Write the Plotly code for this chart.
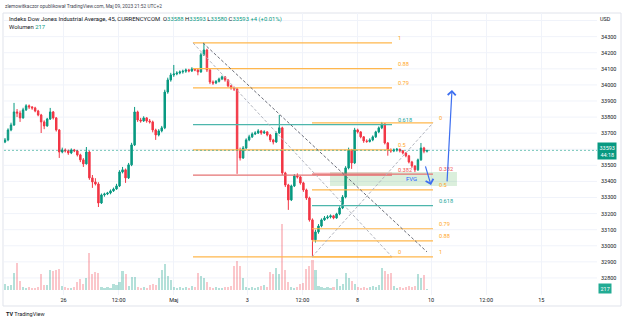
import plotly.graph_objects as go

# ---------------- data ----------------
open_ = [33645, 33658, 33720, 33751, 33832, 33825, 33795, 33845, 33870, 33863,
         33857, 33838, 33813, 33770, 33745, 33788, 33832, 33795, 33720, 33583,
         33596, 33590, 33577, 33596, 33590, 33565, 33534, 33509, 33583, 33422,
         33397, 33384, 33266, 33316, 33322, 33328, 33341, 33353, 33372, 33459,
         33472, 33422, 33503, 33627, 33832, 33782, 33776, 33795, 33776, 33770,
         33720, 33689, 33714, 33733, 33956, 34031, 34062, 34068, 34074, 34081,
         34085, 34093, 34087, 34099, 34093, 34081, 34187, 34217, 34093, 34018,
         34012, 34022, 34037, 34050, 34031, 33994, 33981, 33975, 33596, 33546,
         33608, 33658, 33677, 33695, 33701, 33714, 33701, 33708, 33689, 33658,
         33645, 33701, 33733, 33453, 33378, 33285, 33372, 33434, 33428, 33391,
         33347, 33297, 33161, 33037, 33086, 33123, 33161, 33173, 33179, 33186,
         33173, 33198, 33235, 33303, 33484, 33596, 33515, 33720, 33708, 33677,
         33652, 33648, 33658, 33677, 33708, 33733, 33758, 33639, 33596, 33590,
         33596, 33600, 33590, 33577, 33559, 33521, 33496, 33472, 33534, 33608,
         33588]
high = [33670, 33730, 33765, 33888, 33850, 33840, 33858, 33880, 33878, 33868,
        33864, 33845, 33820, 33780, 33795, 33857, 33838, 33800, 33725, 33610,
        33605, 33598, 33605, 33602, 33596, 33572, 33545, 33614, 33590, 33440,
        33420, 33395, 33325, 33330, 33335, 33350, 33362, 33385, 33470, 33490,
        33480, 33515, 33640, 33863, 33840, 33795, 33805, 33800, 33788, 33778,
        33728, 33725, 33745, 33970, 34045, 34075, 34124, 34085, 34090, 34095,
        34102, 34100, 34110, 34105, 34100, 34200, 34261, 34225, 34100, 34028,
        34030, 34045, 34058, 34055, 34035, 34000, 33990, 33980, 33610, 33620,
        33668, 33690, 33705, 33712, 33725, 33720, 33718, 33712, 33695, 33665,
        33710, 33813, 33740, 33460, 33385, 33380, 33445, 33450, 33435, 33398,
        33355, 33305, 33170, 33100, 33135, 33170, 33185, 33190, 33195, 33192,
        33205, 33245, 33315, 33495, 33610, 33602, 33733, 33728, 33712, 33682,
        33662, 33668, 33686, 33715, 33742, 33770, 33762, 33645, 33605, 33605,
        33608, 33604, 33595, 33582, 33565, 33528, 33500, 33542, 33639, 33615,
        33593]
low = [33638, 33650, 33712, 33745, 33800, 33770, 33790, 33838, 33850, 33845,
       33830, 33805, 33701, 33725, 33740, 33782, 33785, 33710, 33546, 33575,
       33580, 33565, 33570, 33582, 33555, 33520, 33490, 33505, 33410, 33360,
       33375, 33241, 33260, 33305, 33315, 33320, 33335, 33348, 33365, 33450,
       33391, 33415, 33495, 33620, 33770, 33765, 33770, 33765, 33760, 33705,
       33658, 33680, 33705, 33725, 33945, 34020, 34050, 34060, 34066, 34070,
       34075, 34078, 34080, 34085, 34060, 34075, 34180, 34080, 34005, 34000,
       34005, 34015, 34030, 34020, 33985, 33970, 33962, 33447, 33530, 33540,
       33600, 33650, 33670, 33688, 33695, 33690, 33695, 33680, 33645, 33630,
       33640, 33695, 33440, 33365, 33223, 33278, 33365, 33418, 33380, 33335,
       33285, 33150, 32931, 33020, 33075, 33115, 33155, 33165, 33170, 33165,
       33168, 33190, 33228, 33295, 33475, 33478, 33508, 33698, 33668, 33640,
       33640, 33642, 33650, 33670, 33700, 33725, 33630, 33560, 33578, 33582,
       33585, 33580, 33568, 33550, 33512, 33484, 33458, 33465, 33528, 33575,
       33580]
close = [33658, 33720, 33751, 33832, 33825, 33795, 33845, 33870, 33863, 33857,
         33838, 33813, 33770, 33745, 33788, 33832, 33795, 33720, 33583, 33596,
         33590, 33577, 33596, 33590, 33565, 33534, 33509, 33583, 33422, 33397,
         33384, 33266, 33316, 33322, 33328, 33341, 33353, 33372, 33459, 33472,
         33422, 33503, 33627, 33832, 33782, 33776, 33795, 33776, 33770, 33720,
         33689, 33714, 33733, 33956, 34031, 34062, 34068, 34074, 34081, 34085,
         34093, 34087, 34099, 34093, 34081, 34187, 34217, 34093, 34018, 34012,
         34022, 34037, 34050, 34031, 33994, 33981, 33975, 33596, 33546, 33608,
         33658, 33677, 33695, 33701, 33714, 33701, 33708, 33689, 33658, 33645,
         33701, 33733, 33453, 33378, 33285, 33372, 33434, 33428, 33391, 33347,
         33297, 33161, 33037, 33086, 33123, 33161, 33173, 33179, 33186, 33173,
         33198, 33235, 33303, 33484, 33596, 33515, 33720, 33708, 33677, 33652,
         33648, 33658, 33677, 33708, 33733, 33758, 33639, 33596, 33590, 33596,
         33600, 33590, 33577, 33559, 33521, 33496, 33472, 33534, 33608, 33588,
         33593]
volume = [1500, 1000, 1250, 4250, 6750, 2250, 750, 500, 750, 500,
          500, 750, 4000, 1250, 1250, 5000, 4750, 5000, 5250, 1000,
          750, 500, 500, 750, 2000, 2750, 1500, 3000, 9250, 4000,
          4500, 4250, 750, 500, 750, 500, 1500, 1250, 2000, 4750,
          4000, 1000, 3250, 3250, 750, 500, 750, 500, 1250, 1500,
          1250, 3000, 5000, 6500, 3500, 2500, 750, 500, 750, 500,
          750, 500, 1000, 750, 4250, 3500, 3000, 2000, 750, 500,
          750, 500, 500, 750, 750, 1000, 6000, 7250, 6000, 3000,
          750, 500, 750, 500, 750, 1000, 1250, 750, 4500, 4000,
          5500, 4000, 16500, 5000, 2000, 750, 500, 750, 1500, 1750,
          5250, 6000, 7500, 5000, 1000, 750, 500, 750, 500, 750,
          2750, 1000, 1500, 4250, 3000, 2250, 1500, 750, 500, 750,
          500, 750, 1000, 750, 1250, 5500, 4750, 4000, 4250, 1000,
          500, 750, 500, 750, 1000, 750, 1000, 4000, 3000, 3750,
          217]

# time axis: trading days since 26 Apr 00:00 (weekends removed)
first_bar_day = -1.592
bar_days = 0.08202
tick_days = [0, 1.5, 3, 5, 6.5, 8, 10, 11.5, 13]
tick_text = ["26", "12:00", "Maj", "3", "12:00", "8", "10", "12:00", "15"]
# 33600 is hidden behind the last-price label on the price scale
price_ticks = [32800, 32900, 33000, 33100, 33200, 33300, 33400, 33500,
               33700, 33800, 33900, 34000, 34100, 34200, 34300]
grid_prices = [32800, 32900, 33000, 33100, 33200, 33300, 33400, 33500, 33600,
               33700, 33800, 33900, 34000, 34100, 34200, 34300, 34400]

last_price = 33593
fib1_levels = [1, 0.88, 0.79, 0.618, 0.5, 0.382, 0]
fib1_price0, fib1_price1 = 32931, 34261
fib1_days = (3.524, 8.939)
fib2_levels = [0, 0.382, 0.5, 0.618, 0.79, 0.88, 1]
fib2_price0, fib2_price1 = 33764, 32931
fib2_days = (6.762, 10.054)
trend_dark = ((3.796, 34261), (9.891, 32962))
fvg_days, fvg_prices = (7.252, 10.707), (33372, 33459)
red_zone_days, red_zone_prices = (6.79, 8.939), (33434, 33459)
arrow_down = ((9.837, 33503), (10.0, 33378))
arrow_up = ((10.435, 33391), (10.571, 33969))

# ---------------- figure ----------------
UP, DOWN = "#089981", "#F23645"
ORANGE, ORANGE_T = "#FFB74D", "#FFA726"
TEAL, TEAL_T = "#4DB6AC", "#26A69A"
RED, RED_T = "#E57373", "#EF5350"
FONT = "Roboto"
GRID = "#F0F3FA"

x = [first_bar_day + i * bar_days for i in range(len(close))]
vol_colors = ["rgba(8,153,129,0.30)" if c >= o else "rgba(242,54,69,0.28)"
              for o, c in zip(open_, close)]

fig = go.Figure()
fig.add_trace(go.Bar(x=x, y=volume, yaxis="y2", marker_color=vol_colors,
                     marker_line_width=0, width=bar_days * 0.7, hoverinfo="skip"))
fig.add_trace(go.Candlestick(
    x=x, open=open_, high=high, low=low, close=close,
    increasing=dict(line=dict(color=UP, width=1), fillcolor=UP),
    decreasing=dict(line=dict(color=DOWN, width=1), fillcolor=DOWN),
    whiskerwidth=0))


def lvl_color(l):
    if abs(l - 0.618) < 1e-9:
        return TEAL, TEAL_T
    if abs(l - 0.382) < 1e-9:
        return RED, RED_T
    return ORANGE, ORANGE_T


def add_fib(levels, p0, p1, days):
    for l in levels:
        p = p0 + l * (p1 - p0)
        lc, tc = lvl_color(l)
        fig.add_shape(type="line", xref="x", yref="y", x0=days[0], x1=days[1],
                      y0=p, y1=p, line=dict(color=lc, width=1.2))
        fig.add_annotation(x=days[1], y=p, xref="x", yref="y", text=f"{l:g}",
                           showarrow=False, xanchor="left", yanchor="middle",
                           xshift=4, yshift=5,
                           font=dict(family=FONT, size=5.6, color=tc))
    # fib trend line (dashed diagonal)
    fig.add_shape(type="line", xref="x", yref="y", x0=days[0], x1=days[1],
                  y0=p1, y1=p0, line=dict(color="#B2B5BE", width=1, dash="3px,2px"))


# zones
fig.add_shape(type="rect", xref="x", yref="y", x0=fvg_days[0], x1=fvg_days[1],
              y0=fvg_prices[0], y1=fvg_prices[1],
              fillcolor="rgba(76,175,80,0.20)", line=dict(width=0))
fig.add_shape(type="rect", xref="x", yref="y", x0=red_zone_days[0], x1=red_zone_days[1],
              y0=red_zone_prices[0], y1=red_zone_prices[1],
              fillcolor="rgba(242,54,69,0.15)", line=dict(width=0))

add_fib(fib1_levels, fib1_price0, fib1_price1, fib1_days)
add_fib(fib2_levels, fib2_price0, fib2_price1, fib2_days)

fig.add_shape(type="line", xref="x", yref="y",
              x0=trend_dark[0][0], y0=trend_dark[0][1], x1=trend_dark[1][0], y1=trend_dark[1][1],
              line=dict(color="#6A6D78", width=1, dash="3px,2px"))

fig.add_annotation(x=(fvg_days[0] + fvg_days[1]) / 2 + 0.5, y=sum(fvg_prices) / 2,
                   xref="x", yref="y", text="FVG", showarrow=False,
                   font=dict(family=FONT, size=6, color="#2962FF"))

# horizontal grid (including the line hidden behind the price label)
for gp in grid_prices:
    fig.add_shape(type="line", xref="paper", yref="y", x0=0, x1=1, y0=gp, y1=gp,
                  line=dict(color=GRID, width=1), layer="below")

# current price line
fig.add_shape(type="line", xref="paper", yref="y", x0=0, x1=1, y0=last_price, y1=last_price,
              line=dict(color="rgba(8,153,129,0.55)", width=1, dash="2px,2px"))

for (tx, ty), (hx, hy) in (arrow_down, arrow_up):
    fig.add_annotation(x=hx, y=hy, ax=tx, ay=ty, xref="x", yref="y", axref="x", ayref="y",
                       text="", showarrow=True, arrowhead=4, arrowsize=1.3,
                       arrowwidth=1.2, arrowcolor="#3D6FF0", standoff=0, startstandoff=0)

# price-axis labels
fig.add_annotation(x=1, y=last_price, xref="paper", yref="y", xanchor="left", yanchor="middle",
                   yshift=-1, text=f"{last_price}<br>44:18", showarrow=False,
                   bgcolor=UP, borderpad=1.5, align="center",
                   font=dict(family=FONT, size=5.5, color="white"))
fig.add_annotation(x=1, y=volume[-1], xref="paper", yref="y2", xanchor="left", yanchor="middle",
                   xshift=1, text=f"{volume[-1]}", showarrow=False,
                   bgcolor="#22AB94", borderpad=1.5,
                   font=dict(family=FONT, size=5.5, color="white"))
fig.add_annotation(x=1.0135, y=0.979, xref="paper", yref="paper", text="USD", showarrow=False,
                   xanchor="center", yanchor="middle", font=dict(family=FONT, size=5.5, color="#131722"))

# header texts
fig.add_annotation(x=-0.0017, y=1.0248, xref="paper", yref="paper", xanchor="left", yanchor="middle",
                   showarrow=False,
                   text="zlemowitkaczor opublikował TradingView.com, Maj 09, 2023 21:52 UTC+2",
                   font=dict(family=FONT, size=4.8, color="#434651"))
teal = "<span style='color:#089981'>"
fig.add_annotation(x=0.005, y=0.9787, xref="paper", yref="paper", xanchor="left", yanchor="middle",
                   showarrow=False,
                   text=("Indeks Dow Jones Industrial Average, 45, CURRENCYCOM  "
                         f"O{teal}{open_[-1]}</span> H{teal}{high[-1]}</span> "
                         f"L{teal}{low[-1]}</span> C{teal}{close[-1]}</span> "
                         f"{teal}+4 (+0.01%)</span>"),
                   font=dict(family=FONT, size=5.9, color="#131722"))
fig.add_annotation(x=0.005, y=0.9504, xref="paper", yref="paper", xanchor="left", yanchor="middle",
                   showarrow=False, text=f"Wolumen {teal}{volume[-1]}</span>",
                   font=dict(family=FONT, size=5.9, color="#131722"))
fig.add_annotation(x=0.0, y=-0.067, xref="paper", yref="paper", xanchor="left", yanchor="middle",
                   showarrow=False, text="<b>TV</b> TradingView",
                   font=dict(family=FONT, size=5.5, color="#131722"))

# frame
fig.add_shape(type="rect", xref="paper", yref="paper", x0=-0.0017, x1=1.0405, y0=-0.039, y1=1.0,
              line=dict(color="#E0E3EB", width=1), fillcolor="rgba(0,0,0,0)", layer="below")

fig.update_layout(
    width=625, height=323,
    margin=dict(l=4, r=28, t=13, b=28),
    paper_bgcolor="white", plot_bgcolor="white",
    showlegend=False,
    font=dict(family=FONT, size=5.5, color="#131722"),
    xaxis=dict(range=[-1.619, 14.517], tickvals=tick_days, ticktext=tick_text,
               showgrid=True, gridcolor=GRID, gridwidth=1, zeroline=False,
               ticks="", showline=False, rangeslider=dict(visible=False),
               tickfont=dict(size=5.5, color="#131722")),
    yaxis=dict(range=[32694, 34447], side="right", tickvals=price_ticks, tickformat="d",
               showgrid=False, zeroline=False, ticks="",
               ticklabelstandoff=3, tickfont=dict(size=5.5, color="#131722")),
    yaxis2=dict(range=[-1375, 69125], overlaying="y", side="right", showgrid=False,
                showticklabels=False, zeroline=False, ticks=""),
    bargap=0,
)

fig.write_html("out.html")
